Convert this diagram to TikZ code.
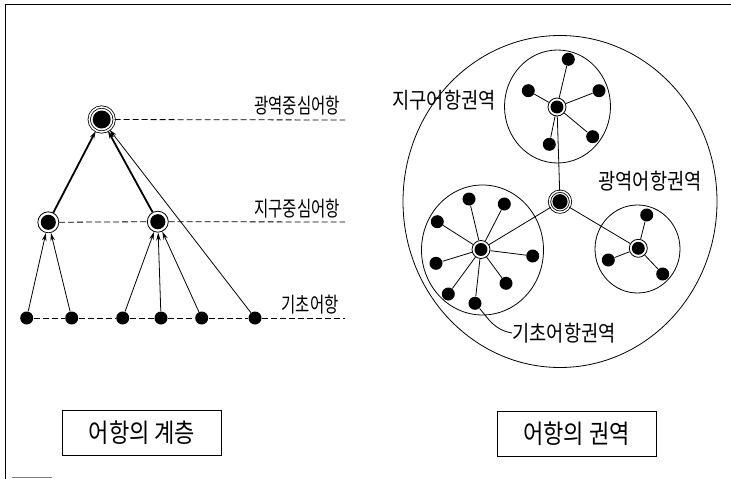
\documentclass[tikz,border=0pt]{standalone}
\usepackage{fontspec}
\newfontfamily\kr[FakeStretch=0.85]{Noto Sans CJK KR}
\newfontfamily\krn[FakeStretch=0.74]{Noto Sans CJK KR}
\usetikzlibrary{arrows.meta}

\begin{document}
\begin{tikzpicture}[x=1pt, y=-1pt, line width=0.8pt,
    dot/.style={circle, fill=black, inner sep=0pt, minimum size=13},
    ringed/.style={circle, draw, inner sep=0pt, minimum size=#1,
        path picture={\fill (path picture bounding box.center) circle (0.36*#1 pt);}},
    tripled/.style={ringed=#1, double, double distance=1.5pt},
    up/.style={-{Stealth[length=8pt, width=4.5pt]}},
    level/.style={dash pattern=on 6pt off 3pt, line width=0.8pt},
    lbl/.style={font=\krn\fontsize{21}{23}\selectfont, inner sep=0pt},
    zone/.style={font=\kr\fontsize{22}{24}\selectfont, inner sep=0pt},
    title/.style={draw, line width=0.7pt, font=\kr\fontsize{26}{28}\selectfont,
        minimum width=159, minimum height=45}]
    \useasboundingbox (0,0) rectangle (731,479);
    % Frame
    \draw[line width=1pt] (5,479) -- (5,4) -- (731,4);
    \draw[gray, line width=1pt] (12,477) -- (52,477);

    % Draw nodes (hierarchy)
    \node[tripled=25] (top) at (101.7,119.5) {};
    \node[ringed=21] (m1) at (48.3,222.3) {};
    \node[ringed=21] (m2) at (157.8,221.7) {};
    \node[dot] (b1) at (26.7,318) {};
    \node[dot] (b2) at (71.7,318) {};
    \node[dot] (b3) at (122.7,318) {};
    \node[dot] (b4) at (161,318) {};
    \node[dot] (b5) at (201.7,318) {};
    \node[dot] (b6) at (255,318) {};
    \coordinate (endA) at (345,120);
    \coordinate (endB) at (345,222);
    \coordinate (endC) at (345,318);

    % Draw levels
    \draw[level] (top) -- (endA);
    \draw[level] (m1) -- (m2) -- (endB);
    \draw[level] (b1) -- (b2) -- (b3) -- (b4) -- (b5) -- (b6) -- (endC);

    % Draw connections
    \draw[up] (b1) -- (m1);
    \draw[up] (b2) -- (m1);
    \draw[up] (b3) -- (m2);
    \draw[up] (b4) -- (m2);
    \draw[up] (b5) -- (m2);
    \draw[up] (b6) -- (top);
    \draw[up, line width=1.8pt] (m1) -- (top);
    \draw[up, line width=1.8pt] (m2) -- (top);

    % Labels
    \node[lbl] (lvlA) at (297,106) {광역중심어항};
    \node[lbl] (lvlB) at (297,209) {지구중심어항};
    \node[lbl] (lvlC) at (310,305) {기초어항};
    \node[title] (hier) at (142,433) {어항의 계층};

    % Draw regions
    \draw (560,201.5) ellipse [x radius=157, y radius=166];
    \draw (557.5,106.5) ellipse [x radius=53, y radius=56.5];
    \draw (482.5,250) ellipse [x radius=61, y radius=65];
    \draw (637.5,249) ellipse [x radius=42.5, y radius=44];

    % Draw nodes (regions)
    \node[tripled=21] (hub) at (560,201.7) {};
    \node[ringed=18] (hA) at (557,107) {};
    \node[ringed=18] (hB) at (481,249.5) {};
    \node[ringed=18] (hC) at (638.3,248.3) {};
    \node[dot] (a1) at (568.3,59.3) {};
    \node[dot] (a2) at (528.3,90.7) {};
    \node[dot] (a3) at (599,90.7) {};
    \node[dot] (a4) at (549.3,144.3) {};
    \node[dot] (a5) at (592.7,136.7) {};
    \node[dot] (p1) at (469,199) {};
    \node[dot] (p2) at (504.3,204) {};
    \node[dot] (p3) at (437.3,221.7) {};
    \node[dot] (p4) at (532.7,256) {};
    \node[dot] (p5) at (436,263.3) {};
    \node[dot] (p6) at (506,283.3) {};
    \node[dot] (p7) at (448.3,294) {};
    \node[dot] (p8) at (475,303.3) {};
    \node[dot] (c1) at (646.7,215) {};
    \node[dot] (c2) at (608.3,260) {};
    \node[dot] (c3) at (662.7,274) {};

    % Draw connections
    \draw (hub) -- (hA) (hub) -- (hB) (hub) -- (hC);
    \draw (hA) -- (a1) (hA) -- (a2) (hA) -- (a3) (hA) -- (a4) (hA) -- (a5);
    \draw (hB) -- (p1) (hB) -- (p2) (hB) -- (p3) (hB) -- (p4)
          (hB) -- (p5) (hB) -- (p6) (hB) -- (p7) (hB) -- (p8);
    \draw (hC) -- (c1) (hC) -- (c2) (hC) -- (c3);

    % Labels
    \node[zone] (zA) at (444,100) {지구어항권역};
    \node[zone] (zW) at (650,181) {광역어항권역};
    \node[zone] (zB) at (564,333) {기초어항권역};
    \draw (p8) .. controls (488,318) and (494,330) .. (zB.west);
    \node[title] (area) at (576.5,434) {어항의 권역};
\end{tikzpicture}
\end{document}
